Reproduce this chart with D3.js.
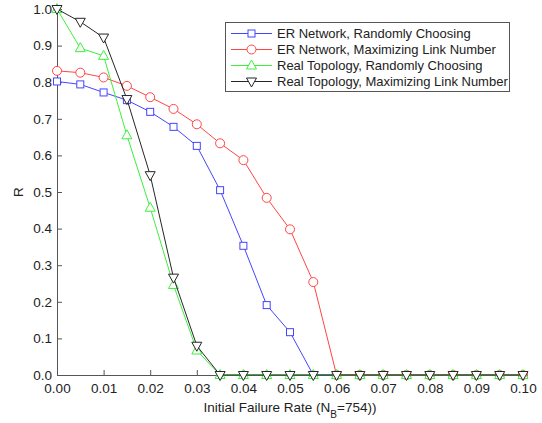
<!DOCTYPE html>
<html>
<head>
<meta charset="utf-8">
<script src="https://cdn.jsdelivr.net/npm/d3@7"></script>
<style>
  body { margin: 0; background: #fff; }
  text { font-family: "Liberation Sans", Arial, Helvetica, sans-serif; fill: #222; }
</style>
</head>
<body>
<svg id="chart" width="542" height="423"></svg>
<script>
// Initial failure rates on the x axis
const failureRates = [0, 0.005, 0.01, 0.015, 0.02, 0.025, 0.03, 0.035, 0.04, 0.045, 0.05,
                      0.055, 0.06, 0.065, 0.07, 0.075, 0.08, 0.085, 0.09, 0.095, 0.1];

// R for each strategy
const erRandom   = [0.802, 0.794, 0.772, 0.751, 0.719, 0.678, 0.626, 0.505, 0.353, 0.191, 0.117,
                    0, 0, 0, 0, 0, 0, 0, 0, 0, 0];
const erMaxLink  = [0.831, 0.826, 0.813, 0.790, 0.759, 0.727, 0.685, 0.633, 0.587, 0.484, 0.398,
                    0.254, 0, 0, 0, 0, 0, 0, 0, 0, 0];
const realRandom = [1.0, 0.893, 0.872, 0.655, 0.457, 0.246, 0.067, 0, 0, 0, 0,
                    0, 0, 0, 0, 0, 0, 0, 0, 0, 0];
const realMaxLink= [1.0, 0.965, 0.922, 0.754, 0.546, 0.266, 0.080, 0, 0, 0, 0,
                    0, 0, 0, 0, 0, 0, 0, 0, 0, 0];

const seriesNames = ["ER Network, Randomly Choosing", "ER Network, Maximizing Link Number",
                     "Real Topology, Randomly Choosing", "Real Topology, Maximizing Link Number"];
const seriesColors = ["#4545ff", "#ff4545", "#3cf03c", "#262626"];
const seriesMarkers = ["square", "circle", "up", "down"];
const seriesValues = [erRandom, erMaxLink, realRandom, realMaxLink];

const xTicks = [0, 0.01, 0.02, 0.03, 0.04, 0.05, 0.06, 0.07, 0.08, 0.09, 0.1];
const yTicks = [0, 0.1, 0.2, 0.3, 0.4, 0.5, 0.6, 0.7, 0.8, 0.9, 1.0];

const svg = d3.select("#chart");
const margin = { left: 57, right: 19, top: 9, bottom: 48 };
const W = 542, H = 423;

const x = d3.scaleLinear().domain([0, 0.1]).range([margin.left, W - margin.right]);
const y = d3.scaleLinear().domain([0, 1]).range([H - margin.bottom, margin.top]);

const axisColor = "#555";

// Axes with inward ticks
const xAxis = svg.append("g")
  .attr("transform", `translate(0,${y(0)})`)
  .call(d3.axisBottom(x).tickValues(xTicks).tickFormat(d3.format(".2f")).tickSizeInner(-5).tickSizeOuter(0).tickPadding(8));
const yAxis = svg.append("g")
  .attr("transform", `translate(${x(0)},0)`)
  .call(d3.axisLeft(y).tickValues(yTicks).tickFormat(d3.format(".1f")).tickSizeInner(-5).tickSizeOuter(0).tickPadding(5));

[xAxis, yAxis].forEach(g => {
  g.select(".domain").attr("stroke", axisColor).attr("stroke-width", 1);
  g.selectAll(".tick line").attr("stroke", axisColor);
  g.selectAll(".tick text").attr("font-size", 13.5).attr("fill", "#222")
    .attr("font-family", "'Liberation Sans', Arial, sans-serif");
});

// Axis titles
const xt = svg.append("text")
  .attr("x", (x(0) + x(0.1)) / 2).attr("y", 412)
  .attr("text-anchor", "middle").attr("font-size", 13.5);
xt.append("tspan").text("Initial Failure Rate (N");
xt.append("tspan").attr("baseline-shift", "sub").attr("font-size", 10).text("B");
xt.append("tspan").text("=754))");

svg.append("text")
  .attr("transform", `translate(23,${(y(0) + y(1)) / 2}) rotate(-90)`)
  .attr("text-anchor", "middle").attr("font-size", 13.5).text("R");

// Marker drawing
function drawMarker(g, type, cx, cy, color) {
  if (type === "square") {
    g.append("rect").attr("x", cx - 3.5).attr("y", cy - 3.5).attr("width", 7).attr("height", 7)
      .attr("fill", "white").attr("stroke", color);
  } else if (type === "circle") {
    g.append("circle").attr("cx", cx).attr("cy", cy).attr("r", 4.5)
      .attr("fill", "white").attr("stroke", color);
  } else if (type === "up") {
    g.append("path").attr("d", `M${cx},${cy - 5.5}L${cx + 5},${cy + 3.5}L${cx - 5},${cy + 3.5}Z`)
      .attr("fill", "white").attr("stroke", color);
  } else {
    g.append("path").attr("d", `M${cx},${cy + 5.5}L${cx + 5},${cy - 3.5}L${cx - 5},${cy - 3.5}Z`)
      .attr("fill", "white").attr("stroke", color);
  }
}

const line = d3.line().x(d => x(d[0])).y(d => y(d[1]));

seriesValues.forEach((vals, i) => {
  const pts = failureRates.map((r, j) => [r, vals[j]]);
  const g = svg.append("g");
  g.append("path").attr("d", line(pts)).attr("fill", "none")
    .attr("stroke", seriesColors[i]).attr("stroke-width", 1);
  pts.forEach(p => drawMarker(g, seriesMarkers[i], x(p[0]), y(p[1]), seriesColors[i]));
});

// Legend
const legend = svg.append("g");
legend.append("rect").attr("x", 225.5).attr("y", 22.5).attr("width", 284).attr("height", 69)
  .attr("fill", "white").attr("stroke", "#555");
seriesNames.forEach((name, i) => {
  const cy = 33.5 + i * 16;
  legend.append("line").attr("x1", 231).attr("x2", 272).attr("y1", cy).attr("y2", cy)
    .attr("stroke", seriesColors[i]);
  drawMarker(legend, seriesMarkers[i], 251.5, cy, seriesColors[i]);
  legend.append("text").attr("x", 277).attr("y", cy + 4.5).attr("font-size", 13).text(name);
});
</script>
</body>
</html>
